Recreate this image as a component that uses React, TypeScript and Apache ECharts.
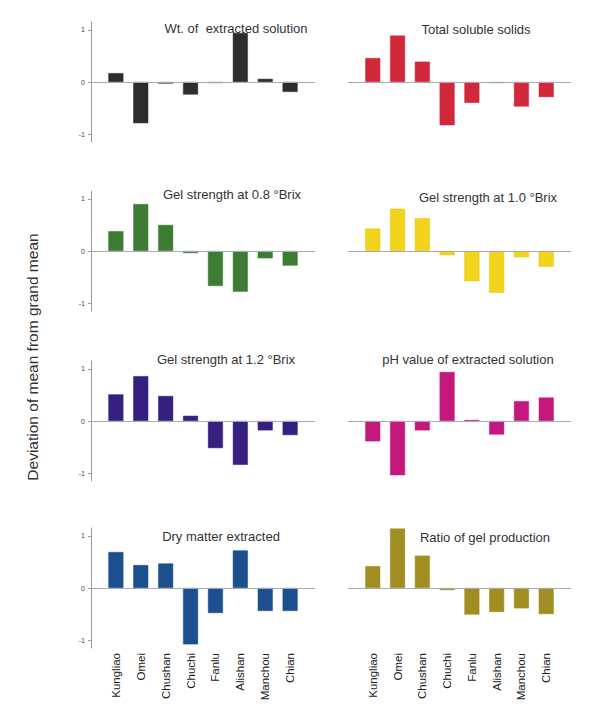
import React, { useEffect, useRef } from "react";
import * as echarts from "echarts";

const categories = ["Kungliao", "Omei", "Chushan", "Chuchi", "Fanlu", "Alishan", "Manchou", "Chian"];

const panelTitles = [
  "Wt. of  extracted solution",
  "Total soluble solids",
  "Gel strength at 0.8 \u00b0Brix",
  "Gel strength at 1.0 \u00b0Brix",
  "Gel strength at 1.2 \u00b0Brix",
  "pH value of extracted solution",
  "Dry matter extracted",
  "Ratio of gel production",
];

const wtExtracted = [0.17, -0.79, -0.03, -0.24, -0.02, 0.94, 0.06, -0.19];
const totalSolids = [0.46, 0.89, 0.39, -0.83, -0.4, -0.02, -0.47, -0.29];
const gel08 = [0.38, 0.9, 0.5, -0.04, -0.67, -0.78, -0.14, -0.28];
const gel10 = [0.43, 0.81, 0.63, -0.08, -0.58, -0.8, -0.12, -0.3];
const gel12 = [0.51, 0.86, 0.48, 0.1, -0.52, -0.84, -0.18, -0.27];
const phValue = [-0.39, -1.04, -0.18, 0.94, 0.02, -0.26, 0.38, 0.45];
const dryMatter = [0.69, 0.44, 0.47, -1.08, -0.48, 0.72, -0.44, -0.44];
const gelRatio = [0.42, 1.14, 0.62, -0.04, -0.51, -0.46, -0.39, -0.5];

const yTickValues = [-1, 0, 1];
const yAxisTitle = "Deviation of mean from grand mean";

const panelData = [wtExtracted, totalSolids, gel08, gel10, gel12, phValue, dryMatter, gelRatio];
const panelColors = ["#2d2d2d", "#d2283c", "#3e7b35", "#f3d41c", "#352080", "#c4187c", "#1d4f8e", "#a08e22"];
const panelBorders = ["#2d2d2d", "#d2283c", "#3e7b35", "#e2c000", "#352080", "#c4187c", "#1d4f8e", "#a08e22"];

const FONT = "'Liberation Sans', Arial, Helvetica, sans-serif";

const gridLefts = [91, 348];
const gridWidths = [224, 223];
const rowTops = [22, 191, 361, 528];
const gridHeight = 120;
const titlePos = [
  [236, 28], [476, 29],
  [232, 194], [488, 197],
  [226, 359], [468, 359],
  [221, 536], [485, 537],
];

export default function App() {
  const ref = useRef<HTMLDivElement>(null);
  useEffect(() => {
    if (!ref.current) return;
    const chart = echarts.init(ref.current, null, { renderer: "svg" });
    const grids: any[] = [];
    const xAxes: any[] = [];
    const yAxes: any[] = [];
    const series: any[] = [];
    const graphics: any[] = [];
    const padded = ["", ...categories, ""];
    for (let i = 0; i < 8; i++) {
      const col = i % 2;
      const row = Math.floor(i / 2);
      grids.push({
        left: gridLefts[col],
        top: rowTops[row],
        width: gridWidths[col],
        height: gridHeight,
        containLabel: false,
      });
      xAxes.push({
        type: "category",
        gridIndex: i,
        data: padded,
        boundaryGap: false,
        axisLine: { show: false },
        axisTick: { show: false },
        splitLine: { show: false },
        axisLabel: {
          show: row === 3,
          rotate: 90,
          interval: 0,
          margin: 5,
          fontSize: 11.5,
          color: "#222",
          fontFamily: FONT,
        },
      });
      yAxes.push({
        type: "value",
        gridIndex: i,
        min: -1.15,
        max: 1.15,
        show: col === 0,
        splitLine: { show: false },
        axisLine: { show: true, lineStyle: { color: "#9a9a9a", width: 1 } },
        axisTick: { show: true, length: 3, customValues: yTickValues, lineStyle: { color: "#9a9a9a" } },
        axisLabel: {
          customValues: yTickValues,
          fontSize: 7,
          color: "#444",
          margin: 6,
          fontFamily: FONT,
        },
      });
      series.push({
        type: "bar",
        xAxisIndex: i,
        yAxisIndex: i,
        barWidth: 15,
        data: ["-", ...panelData[i], "-"],
        itemStyle: { color: panelColors[i], borderColor: panelBorders[i], borderWidth: 0.5 },
        markLine: {
          silent: true,
          symbol: "none",
          label: { show: false },
          lineStyle: { color: "#a4aab8", width: 1, type: "solid" },
          data: [{ yAxis: 0 }],
        },
      });
      graphics.push({
        type: "text",
        x: titlePos[i][0],
        y: titlePos[i][1],
        style: {
          text: panelTitles[i],
          textAlign: "center",
          textVerticalAlign: "middle",
          fontSize: 13,
          fontFamily: FONT,
          fill: "#333",
        },
      });
    }
    graphics.push({
      type: "text",
      x: 32,
      y: 357,
      rotation: Math.PI / 2,
      style: {
        text: yAxisTitle,
        textAlign: "center",
        textVerticalAlign: "middle",
        fontSize: 15.5,
        fontFamily: FONT,
        fill: "#333",
      },
    });
    chart.setOption({
      animation: false,
      backgroundColor: "#ffffff",
      grid: grids,
      xAxis: xAxes,
      yAxis: yAxes,
      series,
      graphic: graphics,
    });
    return () => chart.dispose();
  }, []);
  return (
    <div
      ref={ref}
      style={{ position: "absolute", left: 0, top: 0, width: 605, height: 717 }}
    />
  );
}
